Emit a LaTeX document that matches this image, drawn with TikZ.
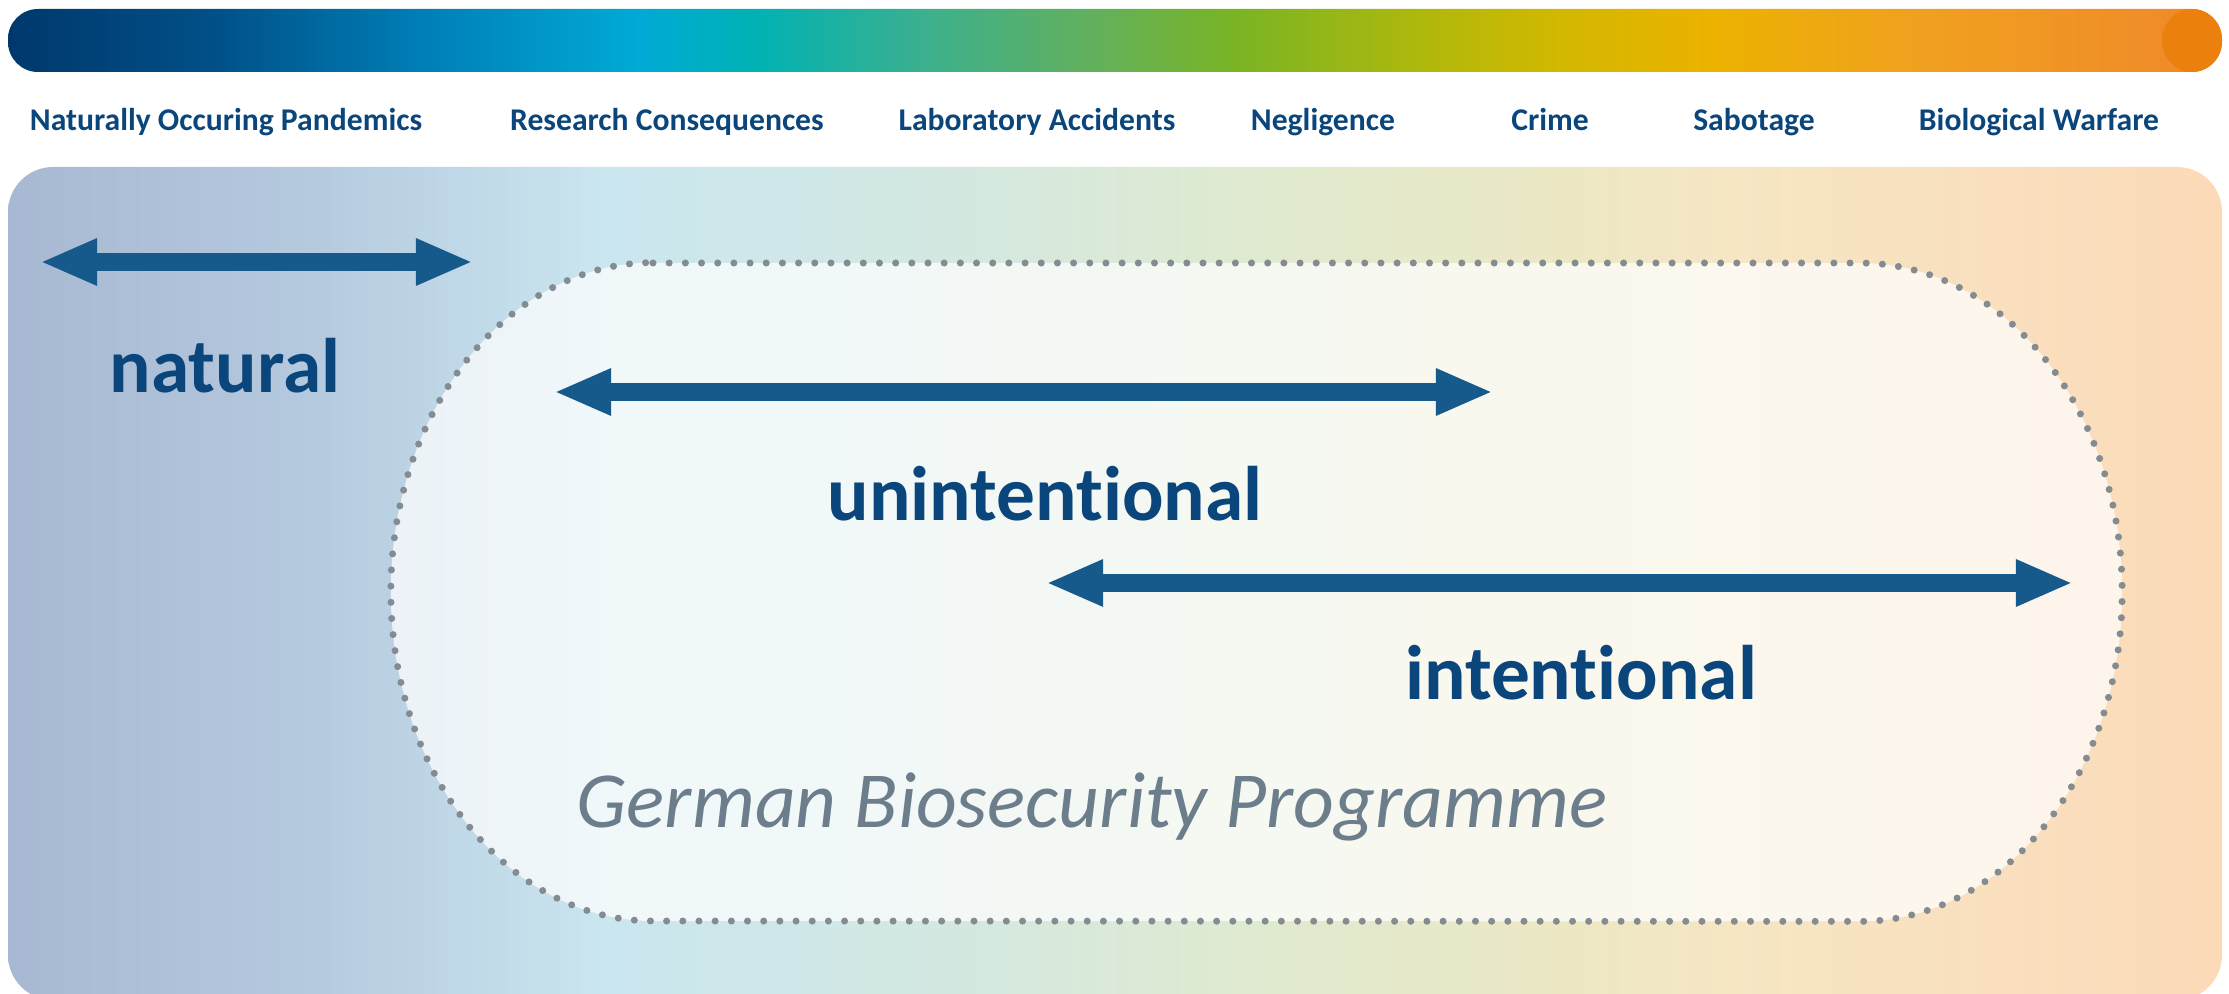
\documentclass[tikz,border=0pt]{standalone}
\usepackage{fontspec}
\setmainfont{Carlito}[Ligatures=NoCommon]
\usepackage{tikz}
\usetikzlibrary{
	arrows.meta
}

\definecolor{textblue}{RGB}{10,70,124}
\definecolor{arrowblue}{RGB}{22,90,140}
\definecolor{progrey}{RGB}{108,126,140}
\definecolor{dotgrey}{RGB}{132,140,146}
\definecolor{caporange}{RGB}{236,128,14}

% colour band along the top
\definecolor{barA}{HTML}{00386C}
\definecolor{barB}{HTML}{004F86}
\definecolor{barC}{HTML}{0080B8}
\definecolor{barD}{HTML}{00AAD6}
\definecolor{barE}{HTML}{00B2B4}
\definecolor{barF}{HTML}{3CB08E}
\definecolor{barG}{HTML}{60B060}
\definecolor{barH}{HTML}{7AB424}
\definecolor{barI}{HTML}{B0B80C}
\definecolor{barJ}{HTML}{D2B800}
\definecolor{barK}{HTML}{ECB200}
\definecolor{barL}{HTML}{F0A020}
\definecolor{barM}{HTML}{F08C28}
\pgfdeclarehorizontalshading{barshade}{100bp}{
	color(0bp)=(barA); color(25bp)=(barA); color(29.5bp)=(barB);
	color(34.5bp)=(barC); color(39.25bp)=(barD); color(41.85bp)=(barE);
	color(45.7bp)=(barF); color(49.25bp)=(barG); color(52.75bp)=(barH);
	color(57bp)=(barI); color(60bp)=(barJ); color(63.5bp)=(barK);
	color(68.25bp)=(barL); color(73.75bp)=(barM); color(75bp)=(caporange);
	color(100bp)=(caporange)}

% pale background behind the ranges
\definecolor{boxA}{HTML}{A8B8D2}
\definecolor{boxB}{HTML}{B4C8DE}
\definecolor{boxC}{HTML}{CAE6EF}
\definecolor{boxD}{HTML}{D2E8E4}
\definecolor{boxE}{HTML}{DFEAD0}
\definecolor{boxF}{HTML}{ECE8C4}
\definecolor{boxG}{HTML}{F6E6C4}
\definecolor{boxH}{HTML}{F9DFBE}
\definecolor{boxI}{HTML}{FCDAB8}
\pgfdeclarehorizontalshading{boxshade}{100bp}{
	color(0bp)=(boxA); color(25bp)=(boxA); color(31.5bp)=(boxB);
	color(38.5bp)=(boxC); color(45bp)=(boxD); color(53bp)=(boxE);
	color(60bp)=(boxF); color(64bp)=(boxG); color(70bp)=(boxH);
	color(75bp)=(boxI); color(100bp)=(boxI)}

\tikzset{
	category/.style={font=\fontsize{9}{11}\selectfont\bfseries,text=textblue,inner sep=0pt,anchor=base},
	kind/.style={font=\fontsize{22}{26}\selectfont\bfseries,text=textblue,inner sep=0pt,anchor=base},
	programme/.style={font=\fontsize{22.6}{28}\selectfont\itshape,text=progrey,inner sep=0pt,anchor=base},
	rangearrow/.style={draw=arrowblue,line width=0.17cm,
		{Triangle[width=0.43cm,length=0.57cm]}-{Triangle[width=0.43cm,length=0.57cm]}},
	pillline/.style={draw=dotgrey,line width=2pt,line cap=round,dash pattern=on 0pt off 4.6pt}
}

\begin{document}
\begin{tikzpicture}[x=0.01cm,y=0.01cm]
		\useasboundingbox (0,0) rectangle (2229,-994);

		% top band and background
		\shade[shading=barshade,rounded corners=0.3cm] (8,-9) rectangle (2222,-72);
		\fill[caporange] (2192,-40.5) ellipse[x radius=0.3cm,y radius=0.315cm];
		\shade[shading=boxshade,rounded corners=0.45cm] (8,-167) rectangle (2222,-1000);

		% programme outline
		\draw[pillline,fill=white,fill opacity=0.72]
			(653,-263) -- (1860,-263)
			arc[start angle=90,end angle=-90,x radius=2.62cm,y radius=3.29cm]
			-- (653,-921)
			arc[start angle=270,end angle=90,x radius=2.62cm,y radius=3.29cm]
			-- cycle;

		\coordinate (natL) at (40,-262);
		\coordinate (natR) at (473,-262);
		\coordinate (uniL) at (554,-392);
		\coordinate (uniR) at (1493,-392);
		\coordinate (intL) at (1046,-583);
		\coordinate (intR) at (2073,-583);

		\draw
			node[category] (pandemics) at (226,-131)  {Naturally Occuring Pandemics}
			node[category] (research)  at (667,-131)  {Research Consequences}
			node[category] (accidents) at (1037,-131) {Laboratory Accidents}
			node[category] (negligence) at (1323,-131) {Negligence}
			node[category] (crime)     at (1550,-131) {Crime}
			node[category] (sabotage)  at (1754,-131) {Sabotage}
			node[category] (warfare)   at (2039,-131) {Biological Warfare}

			node[kind] (natural)       at (225,-393)  {natural}
			node[kind] (unintentional) at (1045,-521) {unintent\kern0pt ional}
			node[kind] (intentional)   at (1581,-699) {intent\kern0pt ional}
			node[programme] (gbp)      at (1092,-827) {German Biosecurity Programme}

			(natL) edge[rangearrow] (natR)
			(uniL) edge[rangearrow] (uniR)
			(intL) edge[rangearrow] (intR)
		;
	\end{tikzpicture}
\end{document}
